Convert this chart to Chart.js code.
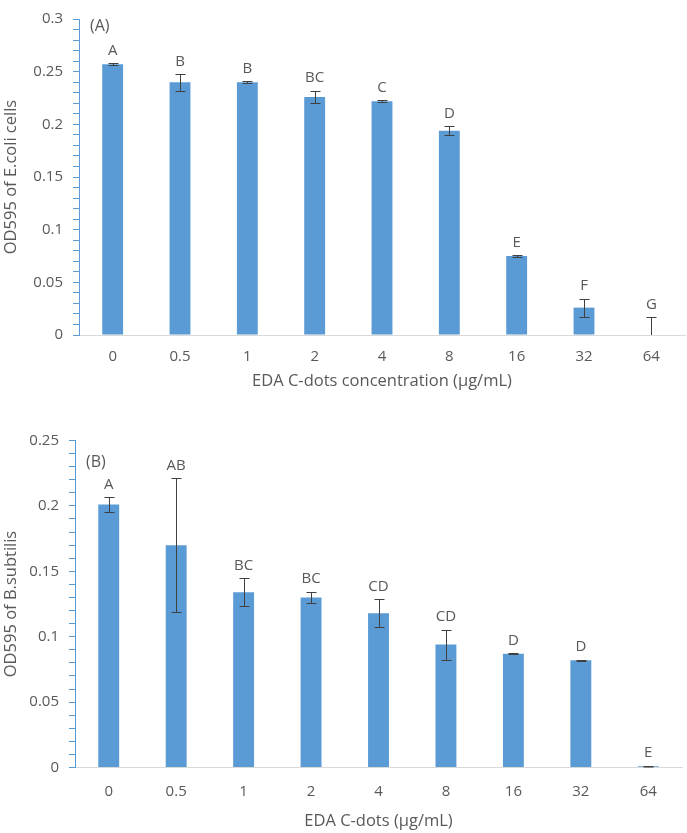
<!DOCTYPE html>
<html>
<head>
<meta charset="utf-8">
<script src="https://cdn.jsdelivr.net/npm/chart.js@4.4.1/dist/chart.umd.min.js"></script>
<style>
  body { margin: 0; background: #fff; }
  canvas { display: block; }
</style>
</head>
<body>
<canvas id="chartA" width="687" height="400"></canvas>
<canvas id="chartB" width="687" height="433"></canvas>
<script>
// concentrations (µg/mL), shared by both panels
const concentrations = ['0', '0.5', '1', '2', '4', '8', '16', '32', '64'];

// panel A: E.coli
const odEcoli = [0.257, 0.240, 0.240, 0.226, 0.222, 0.194, 0.075, 0.026, 0];
const errEcoli = [0.001, 0.008, 0.001, 0.006, 0.001, 0.0045, 0.001, 0.0085, 0.017];
const lettersEcoli = ['A', 'B', 'B', 'BC', 'C', 'D', 'E', 'F', 'G'];

// panel B: B.subtilis
const odBsub = [0.201, 0.170, 0.134, 0.130, 0.118, 0.094, 0.087, 0.082, 0.001];
const errBsub = [0.006, 0.051, 0.0105, 0.0045, 0.0105, 0.0115, 0.0005, 0.0005, 0.0005];
const lettersBsub = ['A', 'AB', 'BC', 'BC', 'CD', 'CD', 'D', 'D', 'E'];

const FONT = "'Open Sans', sans-serif";
const TEXT = '#595959';
const BAR = '#5b9bd5';

// draws error bars, significance letters and the panel label
const errorBarPlugin = {
  id: 'errorBars',
  afterDatasetsDraw(chart, args, opts) {
    const { ctx, chartArea, scales: { x, y } } = chart;
    const values = chart.data.datasets[0].data;
    const cap = 5;

    ctx.save();
    ctx.beginPath();
    ctx.rect(chartArea.left, chartArea.top, chartArea.right - chartArea.left, chartArea.bottom - chartArea.top);
    ctx.clip();
    ctx.strokeStyle = '#404040';
    ctx.lineWidth = 1;
    values.forEach((v, i) => {
      const px = Math.round(x.getPixelForValue(i)) + 0.5;
      const top = Math.round(y.getPixelForValue(v + opts.errors[i])) + 0.5;
      const bot = Math.round(y.getPixelForValue(v - opts.errors[i])) + 0.5;
      ctx.beginPath();
      ctx.moveTo(px, top); ctx.lineTo(px, bot);
      ctx.moveTo(px - cap, top); ctx.lineTo(px + cap, top);
      ctx.moveTo(px - cap, bot); ctx.lineTo(px + cap, bot);
      ctx.stroke();
    });
    ctx.restore();

    ctx.save();
    ctx.fillStyle = TEXT;
    ctx.font = '15px ' + FONT;
    ctx.textAlign = 'center';
    ctx.textBaseline = 'bottom';
    values.forEach((v, i) => {
      const px = x.getPixelForValue(i);
      const top = y.getPixelForValue(v + opts.errors[i]);
      ctx.fillText(opts.letters[i], px, top - 5);
    });
    ctx.font = '16px ' + FONT;
    ctx.textAlign = 'left';
    ctx.textBaseline = 'middle';
    ctx.fillText(opts.panel, chartArea.left + opts.panelDx, chartArea.top + opts.panelDy);
    ctx.restore();
  }
};

const yTick = (v) => {
  const k = v / 0.05;
  if (Math.abs(k - Math.round(k)) > 1e-6) return '';
  return String(+v.toFixed(2));
};

const makeChart = (id, values, errors, letters, panel, yMax, yTitle, xTitle, box) => {
  return new Chart(document.getElementById(id), {
    type: 'bar',
    data: {
      labels: concentrations,
      datasets: [{
        data: values,
        backgroundColor: BAR,
        categoryPercentage: 1,
        barPercentage: 0.31,
      }],
    },
    options: {
      responsive: false,
      animation: false,
      layout: { padding: { top: box.top, right: box.right, left: 0, bottom: 0 } },
      plugins: {
        legend: { display: false },
        tooltip: { enabled: false },
        errorBars: { errors: errors, letters: letters, panel: panel, panelDx: box.panelDx, panelDy: box.panelDy },
      },
      scales: {
        x: {
          grid: { display: false, drawTicks: false },
          border: { display: true, color: '#d9d9d9', width: 1 },
          ticks: { color: TEXT, font: { family: FONT, size: 15 }, padding: box.xPad },
          title: {
            display: true, text: xTitle, color: TEXT,
            font: { family: FONT, size: 16.5 },
            padding: { top: 0, bottom: box.xTitlePad },
          },
          afterFit: (s) => { s.height = box.xHeight; },
        },
        y: {
          min: 0,
          max: yMax,
          grid: { drawOnChartArea: false, drawTicks: true, tickLength: 6, color: BAR },
          border: { display: true, color: BAR, width: 1 },
          ticks: {
            stepSize: 0.01, autoSkip: false, color: TEXT,
            font: { family: FONT, size: 15 }, padding: 10,
            callback: yTick,
          },
          title: {
            display: true, text: yTitle, color: TEXT,
            font: { family: FONT, size: 16.5 },
            padding: { top: 1, bottom: 0 },
          },
          afterFit: (s) => { s.width = box.yWidth; },
        },
      },
    },
    plugins: [errorBarPlugin],
  });
};

makeChart('chartA', odEcoli, errEcoli, lettersEcoli, '(A)', 0.3,
  'OD595 of E.coli cells', 'EDA C-dots concentration (µg/mL)',
  { top: 8, right: 2, yWidth: 79, xHeight: 65, xPad: 13, xTitlePad: 9, panelDx: 11, panelDy: 7 });

makeChart('chartB', odBsub, errBsub, lettersBsub, '(B)', 0.25,
  'OD595 of B.subtilis', 'EDA C-dots (µg/mL)',
  { top: 40.5, right: 5, yWidth: 75, xHeight: 65.5, xPad: 15, xTitlePad: 1.5, panelDx: 11, panelDy: 22 });
</script>
</body>
</html>
